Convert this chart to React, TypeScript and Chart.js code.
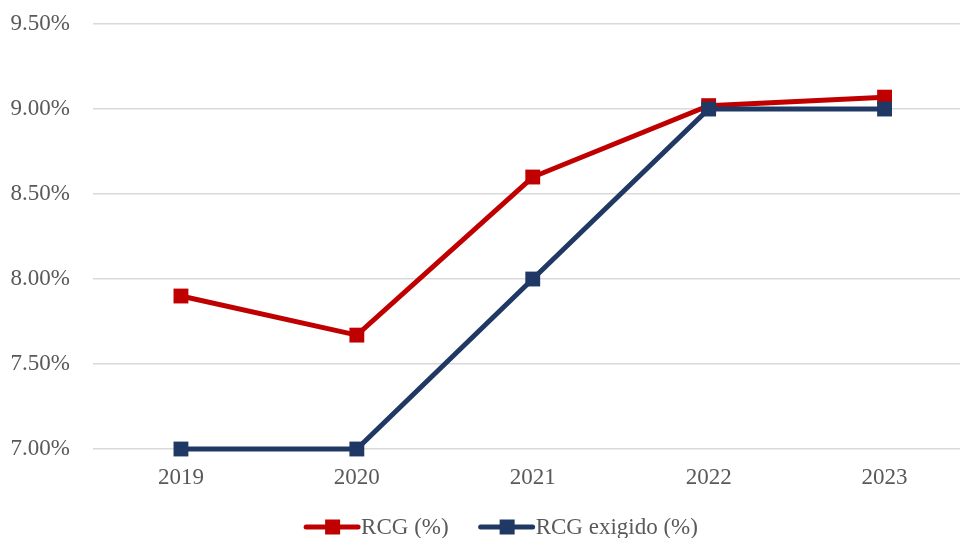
import React, { useEffect, useRef } from "react";
import { Chart, registerables } from "chart.js";

Chart.register(...registerables);

const categories = ["2019", "2020", "2021", "2022", "2023"];
const rcgValues = [7.9, 7.67, 8.6, 9.02, 9.07];
const rcgExigidoValues = [7.0, 7.0, 8.0, 9.0, 9.0];
const seriesLabels = ["RCG (%)", "RCG exigido (%)"];
const seriesColors = ["#C00000", "#1F3864"];
const yMin = 7.0;
const yMax = 9.5;
const yStep = 0.5;

const FONT = "'Liberation Serif', 'Times New Roman', serif";
const TEXT_COLOR = "#595959";
const SHIFT = 10;

const legendPlugin = {
  id: "customLegend",
  afterDraw(chart: any) {
    const ctx = chart.ctx;
    ctx.save();
    ctx.font = `23px ${FONT}`;
    const lineLen = 57;
    const gap = 30;
    const items = chart.data.datasets.map((ds: any) => ({
      label: ds.label,
      color: ds.borderColor,
      w: ctx.measureText(ds.label).width,
    }));
    let total = 0;
    items.forEach((it: any, i: number) => {
      total += lineLen + it.w + (i < items.length - 1 ? gap : 0);
    });
    let x = 501 - total / 2;
    const y = 527 + SHIFT;
    items.forEach((it: any) => {
      ctx.strokeStyle = it.color;
      ctx.lineWidth = 5;
      ctx.lineCap = "round";
      ctx.beginPath();
      ctx.moveTo(x + 2, y);
      ctx.lineTo(x + lineLen - 3, y);
      ctx.stroke();
      ctx.fillStyle = it.color;
      ctx.fillRect(x + lineLen / 2 - 7.5, y - 7.5, 15, 15);
      ctx.fillStyle = TEXT_COLOR;
      ctx.textBaseline = "middle";
      ctx.textAlign = "left";
      ctx.fillText(it.label, x + lineLen, y + 1);
      x += lineLen + it.w + gap;
    });
    ctx.restore();
  },
};

export default function App() {
  const ref = useRef<HTMLCanvasElement>(null);
  useEffect(() => {
    if (!ref.current) return;
    const chart = new Chart(ref.current, {
      type: "line",
      data: {
        labels: categories,
        datasets: [
          {
            label: seriesLabels[0],
            data: rcgValues,
            borderColor: seriesColors[0],
            backgroundColor: seriesColors[0],
            borderWidth: 5,
            pointStyle: "rect",
            pointRadius: 10.5,
            pointHoverRadius: 10.5,
            pointBorderWidth: 0,
            tension: 0,
            clip: false,
            order: 2,
          },
          {
            label: seriesLabels[1],
            data: rcgExigidoValues,
            borderColor: seriesColors[1],
            backgroundColor: seriesColors[1],
            borderWidth: 5,
            pointStyle: "rect",
            pointRadius: 10.5,
            pointHoverRadius: 10.5,
            pointBorderWidth: 0,
            tension: 0,
            clip: false,
            order: 1,
          },
        ],
      },
      options: {
        animation: false,
        responsive: false,
        layout: { padding: { top: 0, bottom: 39, left: 0, right: 0 } },
        plugins: {
          legend: { display: false },
          tooltip: { enabled: false },
        },
        scales: {
          x: {
            offset: true,
            grid: { display: false },
            border: { display: false },
            ticks: {
              color: TEXT_COLOR,
              font: { family: FONT, size: 23, lineHeight: 1.13 },
              padding: 8,
            },
          },
          y: {
            min: yMin,
            max: yMax,
            afterFit(scale: any) {
              scale.width = 93;
            },
            grid: { color: "#D9D9D9", lineWidth: 1.5, drawTicks: false },
            border: { display: false },
            ticks: {
              stepSize: yStep,
              color: TEXT_COLOR,
              font: { family: FONT, size: 23, lineHeight: 0.96 },
              padding: 23,
              callback: (v: any) => Number(v).toFixed(2) + "%",
            },
          },
        },
      },
      plugins: [legendPlugin],
    });
    return () => chart.destroy();
  }, []);
  return (
    <div
      style={{
        position: "absolute",
        left: 0,
        top: 0,
        width: 960,
        height: 538,
        overflow: "hidden",
        background: "#fff",
      }}
    >
      <canvas
        ref={ref}
        width={983}
        height={538 + SHIFT}
        style={{ display: "block", position: "absolute", left: 0, top: -SHIFT }}
      />
    </div>
  );
}
